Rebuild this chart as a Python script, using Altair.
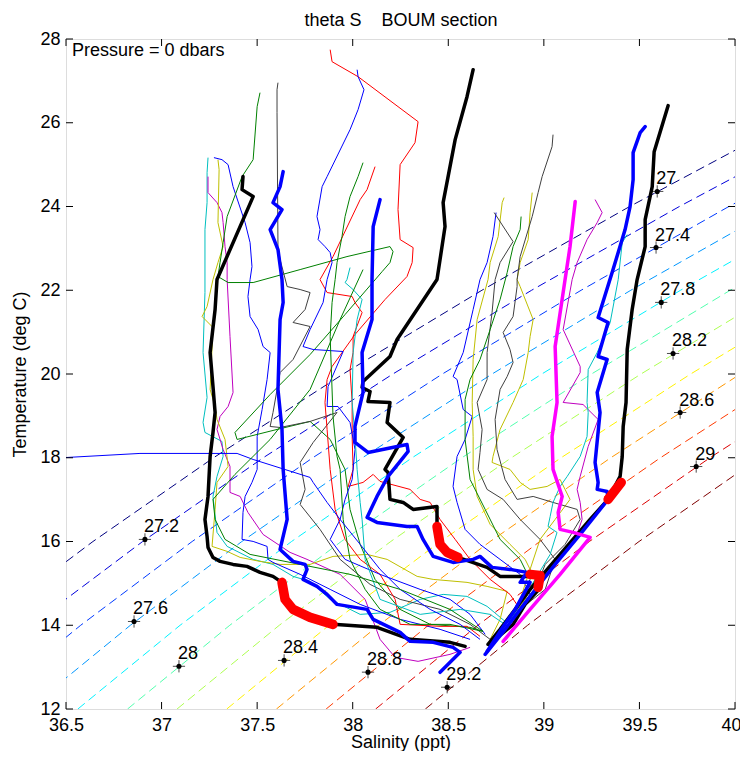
import altair as alt
import pandas as pd

# ---------------- axes ----------------
x_ticks = [36.5, 37, 37.5, 38, 38.5, 39, 39.5, 40]
y_ticks = [12, 14, 16, 18, 20, 22, 24, 26, 28]

# ---------------- isopycnals (sigma-theta), salinity at given temperatures ----------------
iso_temp = [12, 14, 16, 18, 20, 22, 24, 26, 28]
iso_levels = ["27", "27.2", "27.4", "27.6", "27.8", "28", "28.2", "28.4", "28.6", "28.8", "29", "29.2"]
iso_270 = [35.523, 36.058, 36.641, 37.272, 37.950, 38.676, 39.449, 40.270, 41.139]
iso_272 = [35.783, 36.318, 36.901, 37.532, 38.210, 38.936, 39.709, 40.530, 41.399]
iso_274 = [36.042, 36.577, 37.160, 37.791, 38.469, 39.195, 39.968, 40.789, 41.658]
iso_276 = [36.302, 36.837, 37.420, 38.051, 38.729, 39.455, 40.228, 41.049, 41.918]
iso_278 = [36.562, 37.097, 37.680, 38.311, 38.989, 39.715, 40.488, 41.309, 42.178]
iso_280 = [36.822, 37.357, 37.940, 38.571, 39.249, 39.975, 40.748, 41.569, 42.438]
iso_282 = [37.081, 37.616, 38.199, 38.830, 39.508, 40.234, 41.007, 41.828, 42.697]
iso_284 = [37.341, 37.876, 38.459, 39.090, 39.768, 40.494, 41.267, 42.088, 42.957]
iso_286 = [37.601, 38.136, 38.719, 39.350, 40.028, 40.754, 41.527, 42.348, 43.217]
iso_288 = [37.861, 38.396, 38.979, 39.610, 40.288, 41.014, 41.787, 42.608, 43.477]
iso_290 = [38.120, 38.655, 39.238, 39.869, 40.547, 41.273, 42.046, 42.867, 43.736]
iso_292 = [38.380, 38.915, 39.498, 40.129, 40.807, 41.533, 42.306, 43.127, 43.996]

# contour label anchors
label_sal = [39.593, 36.913, 39.587, 36.856, 39.614, 37.091, 39.676, 37.641, 39.713, 38.080, 39.797, 38.494]
label_tem = [24.36, 16.05, 23.02, 14.09, 21.71, 13.02, 20.49, 13.16, 19.08, 12.88, 17.79, 12.52]

# annotation
note_text = "Pressure = 0 dbars"
note_sal = 36.531
note_tem = 27.60
title_text = "theta S\u00a0\u00a0\u00a0\u00a0BOUM section"

# ---------------- thick profiles ----------------
blk_a_sal = [37.426, 37.421, 37.479, 37.290, 37.280, 37.254, 37.269, 37.280, 37.269, 37.254, 37.243, 37.227, 37.238, 37.243, 37.269, 37.306, 37.374, 37.447, 37.515, 37.583, 37.630, 37.646, 37.688, 37.777, 37.897, 38.127, 38.300, 38.509, 38.588]
blk_a_tem = [24.714, 24.403, 24.237, 22.255, 21.540, 20.513, 19.701, 19.081, 18.604, 18.031, 17.076, 16.527, 16.122, 15.859, 15.620, 15.525, 15.453, 15.406, 15.263, 15.167, 15.024, 14.618, 14.379, 14.188, 14.021, 13.950, 13.663, 13.592, 13.496]

blk_b_sal = [38.630, 38.598, 38.536, 38.473, 38.483, 38.441, 38.232, 38.195, 38.054, 38.049, 38.091, 38.080, 38.195, 38.180, 38.264, 38.169, 38.185, 38.195, 38.264, 38.316, 38.441, 38.441, 38.457, 38.494, 38.551, 38.703, 38.771, 38.912, 38.954, 38.980, 38.965, 38.902, 38.839, 38.745, 38.719]
blk_b_tem = [27.267, 26.623, 25.597, 24.093, 23.520, 22.255, 20.824, 20.418, 19.821, 19.678, 19.583, 19.344, 19.320, 18.843, 18.485, 17.721, 17.649, 17.005, 16.933, 16.766, 16.838, 16.360, 15.931, 15.740, 15.621, 15.382, 15.167, 15.167, 15.215, 14.905, 14.809, 14.498, 14.021, 13.663, 13.520]

blk_c_sal = [39.650, 39.577, 39.567, 39.530, 39.530, 39.488, 39.462, 39.436, 39.430, 39.415, 39.410, 39.399, 39.336, 39.242, 39.085, 38.928, 38.771, 38.708]
blk_c_tem = [26.408, 25.310, 24.475, 23.687, 23.043, 22.255, 21.540, 20.585, 19.320, 18.747, 18.031, 17.554, 17.005, 16.527, 15.692, 14.856, 13.902, 13.544]

blu_a_sal = [37.636, 37.620, 37.583, 37.630, 37.568, 37.609, 37.630, 37.636, 37.620, 37.609, 37.630, 37.636, 37.657, 37.620, 37.688, 37.751, 37.761, 37.740, 37.813, 37.866, 37.918, 38.075, 38.107, 38.248, 38.300, 38.421, 38.525, 38.562, 38.457]
blu_a_tem = [24.833, 24.475, 24.093, 23.926, 23.449, 22.972, 22.255, 21.707, 21.301, 19.630, 18.676, 17.721, 16.527, 15.811, 15.525, 15.453, 15.334, 15.095, 14.928, 14.737, 14.498, 14.379, 14.141, 13.830, 13.616, 13.592, 13.472, 13.353, 12.875]

blu_b_sal = [38.143, 38.107, 38.101, 38.101, 38.049, 38.054, 38.012, 38.012, 38.080, 38.284, 38.290, 38.185, 38.127, 38.075, 38.127, 38.284, 38.337, 38.368, 38.421, 38.525, 38.630, 38.666, 38.729, 38.823, 38.912, 38.876, 38.928, 38.850, 38.771, 38.703]
blu_b_tem = [24.165, 23.520, 22.255, 21.301, 20.513, 19.559, 18.747, 18.365, 18.127, 18.318, 18.151, 17.554, 17.076, 16.575, 16.456, 16.360, 16.360, 16.050, 15.644, 15.501, 15.573, 15.644, 15.382, 15.334, 15.263, 15.024, 15.024, 14.379, 13.854, 13.377]

blu_c_sal = [39.530, 39.504, 39.467, 39.467, 39.451, 39.425, 39.362, 39.284, 39.336, 39.284, 39.331, 39.279, 39.294, 39.268, 39.284, 39.279, 39.331, 39.336, 39.190, 39.059, 38.928, 38.797, 38.693]
blu_c_tem = [25.907, 25.764, 25.286, 24.642, 23.998, 23.449, 22.494, 21.349, 21.230, 20.418, 20.346, 19.559, 19.081, 17.888, 17.411, 17.244, 17.196, 17.005, 16.169, 15.453, 14.689, 13.902, 13.305]

mag_sal = [39.164, 39.137, 39.111, 39.059, 39.069, 39.043, 39.048, 39.096, 39.075, 39.085, 39.153, 39.242, 39.085, 38.928, 38.787]
mag_tem = [24.118, 23.043, 22.255, 20.656, 19.320, 18.508, 17.721, 17.076, 16.694, 16.289, 16.217, 16.098, 15.215, 14.379, 13.616]

# highlighted (red) layers
red1_sal = [37.630, 37.646, 37.688, 37.777, 37.897]
red1_tem = [15.024, 14.618, 14.379, 14.188, 14.021]
red2_sal = [38.441, 38.457, 38.494, 38.551]
red2_tem = [16.360, 15.931, 15.740, 15.621]
red3_sal = [38.928, 38.980, 38.970]
red3_tem = [15.215, 15.191, 14.905]
red4_sal = [39.405, 39.336]
red4_tem = [17.411, 17.005]

# ---------------- thin profiles ----------------
p01_sal = [37.243, 37.238, 37.238, 37.227, 37.227, 37.217, 37.238, 37.217, 37.227, 37.316, 37.322, 37.290, 37.269, 37.290, 37.343, 37.479, 37.583, 37.688, 37.777, 37.882, 38.039, 38.195, 38.353, 38.473, 38.598, 38.703, 38.797, 38.745]
p01_tem = [25.167, 24.809, 24.093, 23.449, 21.945, 20.513, 19.439, 18.843, 18.604, 18.389, 18.031, 17.554, 17.076, 16.217, 15.883, 15.573, 15.453, 15.167, 15.047, 14.618, 14.260, 14.308, 14.618, 14.737, 14.689, 14.451, 14.093, 13.663]
p02_sal = [37.243, 37.243, 37.290, 37.316, 37.322, 37.332, 37.343, 37.343, 37.358, 37.374, 37.348, 37.306, 37.290, 37.322, 37.358, 37.358, 37.411, 37.452, 37.531, 37.672, 37.761, 37.934, 38.065, 38.143, 38.222, 38.342, 38.509, 38.614]
p02_tem = [24.714, 24.332, 24.093, 23.855, 23.616, 23.043, 22.661, 22.255, 20.895, 19.558, 19.224, 18.986, 18.676, 18.198, 17.792, 17.172, 17.076, 16.694, 16.169, 15.740, 15.573, 15.215, 14.618, 13.663, 13.234, 13.138, 13.305, 13.472]
p03_sal = [37.295, 37.301, 37.295, 37.322, 37.295, 37.269, 37.238, 37.212, 37.269, 37.254, 37.280, 37.290, 37.332, 37.348, 37.290, 37.280, 37.264, 37.343, 37.411, 37.515, 37.620, 37.777, 37.897, 38.075, 38.180, 38.337, 38.421, 38.598, 38.703, 38.808, 38.771, 38.719]
p03_tem = [25.119, 24.881, 23.616, 23.043, 22.661, 22.255, 21.611, 21.373, 21.110, 19.630, 19.224, 18.914, 18.437, 17.792, 17.411, 16.766, 15.883, 15.764, 15.620, 15.525, 15.453, 15.453, 15.644, 15.692, 15.573, 15.167, 15.095, 15.024, 14.928, 14.809, 14.141, 13.663]
p04_sal = [37.274, 37.316, 37.348, 37.374, 37.437, 37.463, 37.473, 37.463, 37.452, 37.463, 37.505, 37.531, 37.568, 37.552, 37.526, 37.500, 37.500, 37.473, 37.437, 37.426, 37.421, 37.479, 37.552, 37.557, 37.583, 37.725, 37.882, 38.039, 38.248, 38.457, 38.614]
p04_tem = [25.167, 25.119, 25.000, 24.475, 23.616, 23.138, 22.566, 22.255, 21.850, 21.373, 21.062, 20.656, 20.513, 19.868, 19.153, 18.508, 17.721, 17.411, 17.076, 16.694, 16.050, 16.002, 15.883, 15.573, 15.501, 15.215, 14.856, 14.498, 14.141, 13.902, 13.663]
p05_sal = [37.515, 37.500, 37.479, 37.421, 37.343, 37.322, 37.306, 37.295, 37.348, 37.479, 37.725, 37.970, 38.195, 38.211, 38.195, 38.154, 37.960, 37.777, 37.568, 37.384, 37.395, 37.604, 37.777, 37.882, 37.960, 37.986, 38.039, 38.117, 38.248, 38.405, 38.614, 38.682]
p05_tem = [26.718, 26.384, 25.119, 24.714, 23.760, 23.138, 22.661, 22.327, 22.184, 22.184, 22.494, 22.804, 23.043, 22.924, 22.661, 22.446, 21.420, 20.465, 19.510, 18.604, 18.437, 18.676, 18.867, 18.437, 17.721, 16.766, 15.931, 15.095, 14.379, 14.021, 13.950, 13.854]
p06_sal = [37.609, 37.604, 37.604, 37.609, 37.620, 37.657, 37.725, 37.777, 37.751, 37.688, 37.777, 37.688, 37.620, 37.583, 37.568, 37.620, 37.777, 37.918, 37.793, 37.725, 37.751, 37.725, 37.829, 37.934, 38.091, 38.248, 38.457, 38.614, 38.719]
p06_tem = [26.957, 26.790, 26.241, 23.043, 22.733, 22.088, 22.017, 21.945, 21.540, 21.230, 21.134, 20.346, 20.035, 19.081, 18.747, 18.723, 18.867, 19.081, 18.365, 17.888, 17.244, 16.885, 16.289, 15.573, 14.976, 14.618, 14.379, 14.021, 13.663]
p07_sal = [37.882, 37.892, 38.028, 38.342, 38.326, 38.248, 38.237, 38.248, 38.316, 38.311, 38.284, 38.169, 38.012, 37.892, 37.866, 37.855, 37.866, 37.882, 37.908, 37.960, 38.039, 38.143, 38.222, 38.248, 38.457, 38.598, 38.666]
p07_tem = [27.745, 27.458, 27.100, 26.026, 25.525, 25.000, 23.926, 23.210, 23.019, 22.661, 22.327, 21.778, 20.943, 20.179, 19.868, 19.320, 18.676, 17.721, 16.766, 16.050, 15.573, 15.215, 14.618, 14.021, 13.974, 13.974, 13.735]
p08_sal = [38.117, 38.075, 38.039, 37.897, 37.829, 37.866, 37.997, 38.012, 38.049, 38.002, 38.002, 37.986, 37.997, 37.997, 38.002, 37.976, 38.054, 38.107, 38.143, 38.300, 38.353, 38.405, 38.457, 38.536, 38.614, 38.719, 38.823, 38.876, 38.797, 38.719]
p08_tem = [24.952, 24.403, 24.165, 22.804, 22.255, 21.945, 21.850, 21.707, 21.468, 20.895, 20.513, 20.107, 19.320, 18.508, 17.721, 17.315, 17.411, 17.602, 17.435, 17.244, 17.005, 16.933, 16.527, 16.050, 15.573, 15.095, 14.737, 14.379, 13.902, 13.663]
p09_sal = [38.023, 38.028, 38.059, 38.028, 37.986, 37.866, 37.840, 37.813, 37.829, 37.819, 37.855, 37.882, 37.892, 37.866, 37.845, 37.777, 37.740, 37.793, 37.950, 37.871, 37.866, 37.923, 37.986, 38.012, 37.997, 37.960, 37.934, 37.882, 37.960, 38.143, 38.353, 38.509, 38.614, 38.693]
p09_tem = [27.267, 27.100, 26.790, 26.313, 25.835, 24.714, 24.475, 23.760, 23.449, 23.210, 23.043, 22.900, 22.661, 22.255, 21.707, 21.062, 20.656, 20.585, 20.537, 19.701, 19.224, 19.224, 18.843, 18.198, 17.482, 17.005, 16.527, 16.050, 15.573, 15.215, 14.856, 14.618, 14.260, 13.783]
p10_sal = [38.054, 38.028, 37.986, 37.960, 37.944, 37.918, 37.908, 37.892, 37.882, 37.897, 37.918, 37.934, 37.950, 37.986, 38.065, 38.143, 38.300, 38.509, 38.682]
p10_tem = [25.047, 24.714, 24.237, 23.760, 23.282, 22.661, 22.255, 21.707, 20.895, 18.986, 18.031, 17.721, 16.527, 15.573, 14.856, 14.379, 14.021, 14.021, 13.854]
p11_sal = [37.986, 37.970, 37.960, 38.002, 38.049, 38.023, 38.002, 37.997, 38.012, 38.023, 38.039, 38.049, 38.065, 38.143, 38.353, 38.562, 38.719, 38.797]
p11_tem = [22.542, 22.255, 22.184, 22.017, 21.778, 21.301, 20.513, 19.320, 18.508, 17.721, 16.933, 16.527, 15.573, 14.618, 14.260, 14.379, 14.260, 14.021]
p12_sal = [38.750, 38.734, 38.703, 38.666, 38.630, 38.578, 38.525, 38.546, 38.578, 38.625, 38.588, 38.546, 38.525, 38.546, 38.588, 38.666, 38.771, 38.876, 38.928, 38.850, 38.771]
p12_tem = [23.855, 23.282, 22.661, 22.255, 21.540, 20.513, 19.940, 19.868, 19.153, 18.986, 18.437, 18.031, 17.315, 16.933, 16.289, 15.931, 15.573, 15.215, 14.737, 14.260, 13.902]
p13_sal = [38.792, 38.782, 38.761, 38.719, 38.708, 38.651, 38.630, 38.625, 38.630, 38.630, 38.651, 38.719, 38.823, 38.902, 38.954, 38.902, 38.823, 38.745]
p13_tem = [24.213, 24.093, 23.282, 22.661, 22.255, 21.301, 20.346, 19.320, 18.508, 17.721, 17.076, 16.408, 15.931, 15.573, 15.095, 14.618, 14.141, 13.783]
p14_sal = [38.740, 38.839, 38.771, 38.745, 38.729, 38.703, 38.703, 38.651, 38.677, 38.666, 38.656, 38.703, 38.787, 38.876, 38.980, 39.059, 39.007, 38.876, 38.771]
p14_tem = [23.855, 23.162, 22.661, 22.255, 21.468, 20.513, 19.868, 19.320, 18.676, 18.127, 17.721, 17.244, 17.005, 16.527, 16.050, 15.573, 14.856, 14.379, 13.902]
p15_sal = [38.881, 38.876, 38.839, 38.808, 38.771, 38.719, 38.666, 38.614, 38.588, 38.588, 38.614, 38.693, 38.771, 38.876, 38.928, 38.850, 38.745]
p15_tem = [23.760, 23.449, 23.043, 22.422, 21.778, 21.062, 20.346, 19.868, 19.391, 18.437, 17.482, 16.766, 16.050, 15.573, 15.095, 14.379, 13.783]
p16_sal = [38.939, 38.928, 38.918, 38.876, 38.860, 38.876, 38.944, 38.928, 38.918, 38.892, 38.839, 38.771, 38.734, 38.729, 38.823, 38.876, 38.928, 39.017, 39.085, 39.137, 39.059, 38.980, 38.928, 38.876, 38.797]
p16_tem = [24.332, 23.855, 23.210, 22.661, 22.255, 22.088, 21.301, 20.895, 20.513, 19.868, 19.320, 18.676, 18.031, 17.888, 17.721, 17.411, 17.244, 17.315, 17.482, 17.005, 16.527, 16.050, 15.334, 14.618, 14.021]
p17_sal = [39.048, 39.043, 38.991, 38.970, 38.939, 38.876, 38.860, 38.860, 38.839, 38.787, 38.823, 38.839, 38.808, 38.771, 38.745, 38.755, 38.797, 38.860, 38.944, 39.048, 39.174, 39.190, 39.111, 39.007, 38.954, 38.876, 38.787]
p17_tem = [25.716, 25.430, 24.714, 24.332, 23.760, 22.804, 22.255, 22.088, 21.373, 20.991, 20.585, 20.274, 19.940, 19.630, 18.914, 18.198, 17.482, 17.005, 17.076, 16.933, 16.766, 16.527, 15.931, 15.453, 14.856, 14.331, 13.854]
p18_sal = [39.268, 39.305, 39.279, 39.226, 39.174, 39.148, 39.101, 39.190, 39.190, 39.101, 39.205, 39.284, 39.232, 39.190, 39.174, 39.190, 39.200, 39.164, 39.085, 38.980, 38.876, 38.797]
p18_tem = [24.165, 23.855, 23.616, 23.210, 22.661, 22.255, 21.062, 20.179, 20.035, 19.320, 19.272, 18.914, 18.270, 17.554, 17.244, 16.933, 16.527, 16.050, 15.573, 14.976, 14.379, 13.854]
p19_sal = [39.436, 39.410, 39.389, 39.347, 39.279, 39.232, 39.226, 39.232, 39.226, 39.190, 39.122, 39.085, 39.048, 39.033, 39.022, 39.069, 39.033, 38.954, 38.876, 38.797]
p19_tem = [23.330, 23.138, 22.255, 21.230, 20.513, 20.107, 19.320, 19.081, 18.508, 18.031, 17.554, 17.315, 16.933, 16.599, 16.360, 16.217, 15.692, 15.095, 14.498, 13.902]
p20_sal = [36.300, 36.505, 36.887, 37.395, 37.479, 37.777, 37.793, 37.866, 37.934, 38.039, 38.143, 38.248, 38.405, 38.562, 38.666]
p20_tem = [18.000, 18.007, 18.103, 18.103, 17.959, 17.530, 17.411, 16.933, 16.527, 15.931, 15.334, 14.856, 14.379, 14.021, 13.663]
p21_sal = [38.054, 37.934, 37.777, 37.568, 37.384, 37.269, 37.280, 37.332, 37.463, 37.725, 37.986, 38.248, 38.509, 38.682]
p21_tem = [22.494, 21.301, 19.630, 18.437, 17.602, 17.005, 16.527, 16.050, 15.692, 15.453, 15.215, 14.856, 14.379, 13.854]

# ---------------- styles ----------------
C_B, C_G, C_R, C_C, C_M, C_Y, C_K = "#0000FF", "#008000", "#FF0000", "#00BFBF", "#BF00BF", "#BFBF00", "#404040"
jet12 = ["#000080", "#0000DC", "#003AFF", "#0097FF", "#00F3FF", "#51FFAE",
         "#AEFF51", "#FFF300", "#FF9700", "#FF3A00", "#DC0000", "#800000"]
FONT = "Liberation Sans"
W, H = 669, 670


def frame(pairs):
    rows = []
    for pid, (sal, tem, col) in enumerate(pairs):
        for k, (s, t) in enumerate(zip(sal, tem)):
            rows.append({"pid": pid, "k": k, "S": s, "T": t, "col": col})
    return pd.DataFrame(rows)


iso_sets = [iso_270, iso_272, iso_274, iso_276, iso_278, iso_280,
            iso_282, iso_284, iso_286, iso_288, iso_290, iso_292]
iso_df = frame([(s, iso_temp, c) for s, c in zip(iso_sets, jet12)])

thin_df = frame([
    (p01_sal, p01_tem, C_C), (p02_sal, p02_tem, C_M), (p03_sal, p03_tem, C_Y),
    (p04_sal, p04_tem, C_B), (p05_sal, p05_tem, C_G), (p06_sal, p06_tem, C_K),
    (p07_sal, p07_tem, C_R), (p08_sal, p08_tem, C_R), (p09_sal, p09_tem, C_B),
    (p10_sal, p10_tem, C_G), (p11_sal, p11_tem, C_C), (p12_sal, p12_tem, C_B),
    (p13_sal, p13_tem, C_Y), (p14_sal, p14_tem, C_K), (p15_sal, p15_tem, C_G),
    (p16_sal, p16_tem, C_Y), (p17_sal, p17_tem, C_K), (p18_sal, p18_tem, C_M),
    (p19_sal, p19_tem, C_C), (p20_sal, p20_tem, C_B), (p21_sal, p21_tem, C_G),
])
thick_df = frame([
    (blk_a_sal, blk_a_tem, "#000000"), (blk_b_sal, blk_b_tem, "#000000"),
    (blk_c_sal, blk_c_tem, "#000000"), (blu_a_sal, blu_a_tem, "#0000FF"),
    (blu_b_sal, blu_b_tem, "#0000FF"), (blu_c_sal, blu_c_tem, "#0000FF"),
    (mag_sal, mag_tem, "#FF00FF"),
])
red_df = frame([
    (red1_sal, red1_tem, "#FF0000"), (red2_sal, red2_tem, "#FF0000"),
    (red3_sal, red3_tem, "#FF0000"), (red4_sal, red4_tem, "#FF0000"),
])
lab_df = pd.DataFrame({"S": label_sal, "T": label_tem, "txt": iso_levels})
note_df = pd.DataFrame({"S": [note_sal], "T": [note_tem], "txt": [note_text]})
xt_df = pd.DataFrame({"S": x_ticks})
yt_df = pd.DataFrame({"T": y_ticks})

xs = alt.Scale(domain=[36.5, 40], nice=False, zero=False)
ys = alt.Scale(domain=[12, 28], nice=False, zero=False)
x_axis_bottom = alt.Axis(orient="bottom", values=x_ticks, format="~g", ticks=False, domain=False, grid=False,
                         labelFlush=False, labelOverlap=False,
                         labelAlign={"condition": {"test": "datum.value >= 40", "value": "right"}, "value": "center"},
                         labelOffset={"condition": {"test": "datum.value >= 40", "value": 6}, "value": 0},
                         labelFontSize=18, labelFont=FONT, labelColor="black", labelPadding=7,
                         titleFontSize=18, titleFont=FONT, titleFontWeight="normal", titleColor="black",
                         titleBaseline="alphabetic", titleY=38)
x_axis_top = alt.Axis(orient="top", values=x_ticks, ticks=False, domain=False, grid=False, labels=False,
                      titleFontSize=18, titleFont=FONT, titleFontWeight="normal", titleColor="black",
                      titleBaseline="alphabetic", titleY=-14)
y_axis = alt.Axis(values=y_ticks, format="~g", ticks=False, domain=False, grid=False,
                  labelFlush=False, labelOverlap=False,
                  labelFontSize=18, labelFont=FONT, labelColor="black", labelPadding=6,
                  titleFontSize=18, titleFont=FONT, titleFontWeight="normal", titleColor="black",
                  titleBaseline="alphabetic", titleX=-41, titleY=335, titleAngle=270)


def X(which=None):
    if which == "bottom":
        return alt.X("S:Q", scale=xs, axis=x_axis_bottom, title="Salinity (ppt)")
    if which == "top":
        return alt.X("S:Q", scale=xs, axis=x_axis_top, title=title_text)
    return alt.X("S:Q", scale=xs, axis=None)


def Y():
    return alt.Y("T:Q", scale=ys, axis=y_axis, title="Temperature (deg C)")


col = alt.Color("col:N", scale=None, legend=None)

iso = alt.Chart(iso_df).mark_line(clip=True, strokeWidth=1, strokeDash=[9, 5]).encode(
    x=X("bottom"), y=Y(), color=col, detail="pid:N", order="k:Q")
thin = alt.Chart(thin_df).mark_line(clip=True, strokeWidth=1).encode(
    x=X(), y=Y(), color=col, detail="pid:N", order="k:Q")
thick = alt.Chart(thick_df).mark_line(clip=True, strokeWidth=3.5, strokeJoin="round", strokeCap="round").encode(
    x=X(), y=Y(), color=col, detail="pid:N", order="k:Q")
red = alt.Chart(red_df).mark_line(clip=True, strokeWidth=9.5, strokeJoin="round", strokeCap="round").encode(
    x=X(), y=Y(), color=col, detail="pid:N", order="k:Q")

cross = alt.Chart(lab_df).mark_point(shape="M-1,0L1,0M0,-1L0,1", size=150, stroke="black",
                                     strokeWidth=1, filled=False).encode(x=X(), y=Y())
dot = alt.Chart(lab_df).mark_point(shape="circle", size=26, filled=True, color="black",
                                   opacity=1).encode(x=X(), y=Y())
labels = alt.Chart(lab_df).mark_text(align="left", baseline="alphabetic", dx=-1, dy=-7,
                                     fontSize=18, font=FONT, color="black").encode(
    x=X(), y=Y(), text="txt:N")
note = alt.Chart(note_df).mark_text(align="left", baseline="alphabetic", fontSize=18,
                                    font=FONT, color="black").encode(x=X(), y=Y(), text="txt:N")

tick_b = alt.Chart(xt_df).mark_rule(color="black", strokeWidth=1).encode(
    x=X(), y=alt.value(H), y2=alt.value(H - 7))
tick_t = alt.Chart(xt_df).mark_rule(color="black", strokeWidth=1).encode(
    x=X("top"), y=alt.value(0), y2=alt.value(7))
tick_l = alt.Chart(yt_df).mark_rule(color="black", strokeWidth=1).encode(
    y=Y(), x=alt.value(0), x2=alt.value(7))
tick_r = alt.Chart(yt_df).mark_rule(color="black", strokeWidth=1).encode(
    y=Y(), x=alt.value(W), x2=alt.value(W - 7))

chart = alt.layer(
    iso, thin, thick, red, tick_b, tick_t, tick_l, tick_r, cross, dot, labels, note
).resolve_axis(x="independent").properties(
    width=W, height=H,
    padding={"left": 58, "top": 31, "right": 5, "bottom": 42},
    autosize=alt.AutoSizeParams(type="none"),
).configure_view(stroke="black", strokeWidth=1).configure(background="white")

chart.save("out.html", embed_options={"renderer": "svg", "actions": False})
